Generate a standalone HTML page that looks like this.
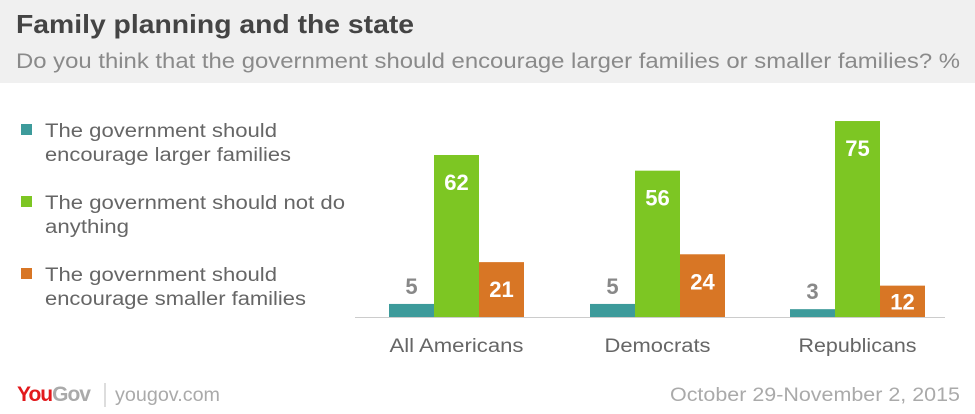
<!DOCTYPE html>
<html><head><meta charset="utf-8"><style>
html,body{margin:0;padding:0;background:#fff}
svg{display:block;font-family:"Liberation Sans",sans-serif}
</style></head><body>
<svg id="chart" width="975" height="414" viewBox="0 0 975 414" xmlns="http://www.w3.org/2000/svg">
<rect x="0" y="0" width="975" height="83" fill="#f0f0f0"/>
<text x="16" y="33" font-size="26" font-weight="bold" fill="#444" textLength="398" lengthAdjust="spacingAndGlyphs">Family planning and the state</text>
<text x="16" y="68" font-size="21" fill="#8a8a8a" textLength="944" lengthAdjust="spacingAndGlyphs">Do you think that the government should encourage larger families or smaller families? %</text>
<g font-size="19" fill="#666">
<g><rect x="21" y="124" width="11" height="11" fill="#3d9b9b"/><text x="45" y="137" textLength="232" lengthAdjust="spacingAndGlyphs">The government should</text><text x="45" y="161" textLength="246" lengthAdjust="spacingAndGlyphs">encourage larger families</text></g>
<g><rect x="21" y="196" width="11" height="11" fill="#7dc623"/><text x="45" y="209" textLength="300" lengthAdjust="spacingAndGlyphs">The government should not do</text><text x="45" y="233" textLength="84" lengthAdjust="spacingAndGlyphs">anything</text></g>
<g><rect x="21" y="268" width="11" height="11" fill="#d87625"/><text x="45" y="281" textLength="232" lengthAdjust="spacingAndGlyphs">The government should</text><text x="45" y="305" textLength="261" lengthAdjust="spacingAndGlyphs">encourage smaller families</text></g>
</g>
<g id="bars"></g>
<line x1="355" y1="317.5" x2="945" y2="317.5" stroke="#ccc" stroke-width="1"/>
<g>
<text x="17" y="401" font-size="21" font-weight="bold" letter-spacing="-1" fill="#e2191c">You<tspan fill="#aaa">Gov</tspan></text>
<line x1="105" y1="383" x2="105" y2="407" stroke="#bbb" stroke-width="1"/>
<text x="115" y="401" font-size="19" fill="#aaa" textLength="105" lengthAdjust="spacingAndGlyphs">yougov.com</text>
</g>
<text x="670" y="401" font-size="19" fill="#aaa" textLength="290" lengthAdjust="spacingAndGlyphs">October 29-November 2, 2015</text>
</svg>
<script>
const categories = ["All Americans","Democrats","Republicans"];
const larger = [5,5,3];
const nothing = [62,56,75];
const smaller = [21,24,12];
const seriesColors = ["#3d9b9b","#7dc623","#d87625"];
const seriesNames = ["larger","nothing","smaller"];
const labelWidths = [134,106,118];
const baseY = 317, pxPerUnit = 2.613, barW = 45;
const groupStart = [389,590,790];
function yScale(v){return baseY - v*pxPerUnit;}
const g = document.getElementById('bars');
const NS = "http://www.w3.org/2000/svg";
const allSeries=[larger,nothing,smaller];
categories.forEach((c,i)=>{
  allSeries.forEach((s,j)=>{
    const v=s[i], x=groupStart[i]+j*barW, y=yScale(v);
    const r=document.createElementNS(NS,'rect');
    r.setAttribute('x',x);r.setAttribute('y',y);r.setAttribute('width',barW);r.setAttribute('height',baseY-y);r.setAttribute('fill',seriesColors[j]);
    
    
    g.appendChild(r);
    const t=document.createElementNS(NS,'text');
    const inside=(baseY-y)>28;
    const ty = inside ? Math.min(y+35,(y+baseY)/2+8) : y-10;
    t.setAttribute('x',x+barW/2);t.setAttribute('y',ty);
    t.setAttribute('text-anchor','middle');t.setAttribute('font-size','22');t.setAttribute('font-weight','bold');
    t.setAttribute('fill',inside?'#fff':'#888');
    t.textContent=v;
    
    
    g.appendChild(t);
  });
  const l=document.createElementNS(NS,'text');
  const cx=groupStart[i]+1.5*barW, w=labelWidths[i];
  l.setAttribute('x',cx-w/2);l.setAttribute('y',352);
  l.setAttribute('textLength',w);l.setAttribute('lengthAdjust','spacingAndGlyphs');
  l.setAttribute('font-size','19');l.setAttribute('fill','#666');
  l.textContent=c;
  
  
  g.appendChild(l);
});
</script>
</body></html>
